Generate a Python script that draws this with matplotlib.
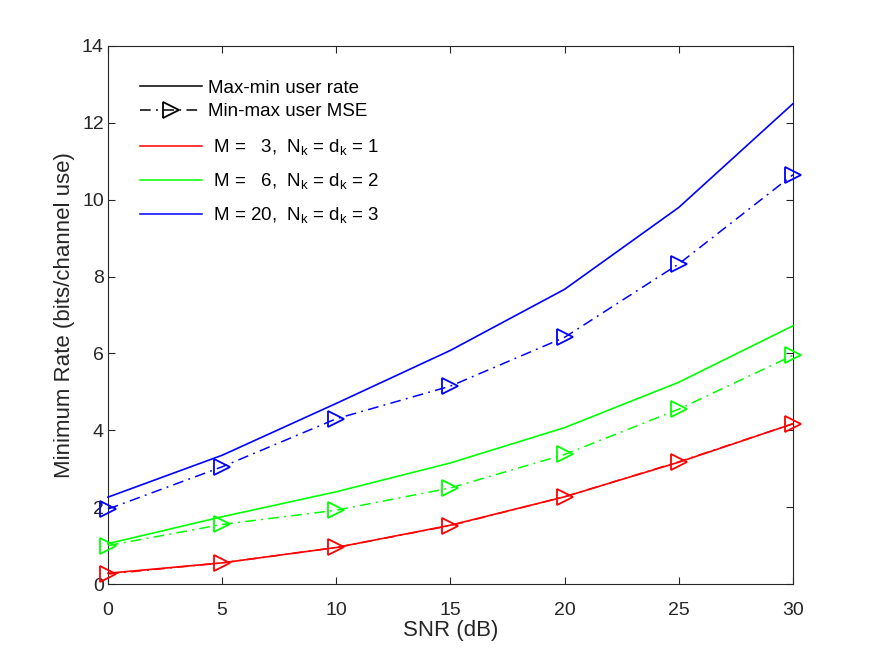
import matplotlib
matplotlib.use("Agg")
import matplotlib.pyplot as plt
from matplotlib.lines import Line2D

plt.rcParams['font.family'] = ['Liberation Sans', 'DejaVu Sans']
plt.rcParams['mathtext.fontset'] = 'custom'
plt.rcParams['mathtext.rm'] = 'Liberation Sans'
plt.rcParams['mathtext.it'] = 'Liberation Sans'

snr = [0, 5, 10, 15, 20, 25, 30]
rate_m3 = [0.28, 0.55, 0.95, 1.53, 2.27, 3.17, 4.17]
mse_m3 = [0.26, 0.55, 0.95, 1.52, 2.27, 3.18, 4.17]
rate_m6 = [1.05, 1.75, 2.40, 3.15, 4.07, 5.25, 6.72]
mse_m6 = [1.00, 1.55, 1.92, 2.50, 3.37, 4.55, 5.95]
rate_m20 = [2.26, 3.35, 4.70, 6.08, 7.67, 9.80, 12.50]
mse_m20 = [1.95, 3.05, 4.30, 5.15, 6.42, 8.33, 10.65]

labels = [r' M =   3,  N$_\mathregular{k}$ = d$_\mathregular{k}$ = 1',
          r' M =   6,  N$_\mathregular{k}$ = d$_\mathregular{k}$ = 2',
          r' M = 20,  N$_\mathregular{k}$ = d$_\mathregular{k}$ = 3']
colors = ['#ff0000', '#00ff00', '#0000ff']
dashdot = (0, (7, 3.5, 1.2, 3.5))

fig = plt.figure(figsize=(8.75, 6.57), dpi=100)
ax = fig.add_axes([0.1234, 0.1111, 0.7829, 0.8189])

for r, m, c in zip([rate_m3, rate_m6, rate_m20], [mse_m3, mse_m6, mse_m20], colors):
    ax.plot(snr, r, '-', color=c, lw=1.2, clip_on=False, zorder=3)
    ax.plot(snr, m, linestyle=dashdot, color=c, lw=1.1, marker='>', markersize=12,
            markerfacecolor='none', markeredgecolor=c, markeredgewidth=1.3,
            clip_on=False, zorder=3)

ax.set_xlim(0, 30)
ax.set_ylim(0, 14)
ax.set_xticks(snr)
ax.set_yticks(range(0, 15, 2))
ax.tick_params(direction='in', length=5, labelsize=14, colors='#262626',
               top=True, right=True, width=0.8)
ax.tick_params(axis='x', pad=13)
ax.tick_params(axis='y', pad=3)
for s in ax.spines.values():
    s.set_color('#262626')
    s.set_linewidth(0.8)
ax.set_xlabel('SNR (dB)', fontsize=16, color='#262626', labelpad=1)
ax.set_ylabel('Minimum Rate (bits/channel use)', fontsize=16, color='#262626', labelpad=5)

h_rate = Line2D([], [], color='k', lw=1.1, ls='-')
h_mse = Line2D([], [], color='k', lw=1.1, ls=dashdot, marker='>', markersize=12,
               markerfacecolor='none', markeredgewidth=1.3)
leg1 = ax.legend([h_rate, h_mse], ['Max-min user rate', 'Min-max user MSE'],
                 loc='upper left', frameon=False, fontsize=13.5,
                 handlelength=3.3, handletextpad=0.35, labelspacing=0.35,
                 bbox_to_anchor=(0.022, 0.969))
ax.add_artist(leg1)
h_cols = [Line2D([], [], color=c, lw=1.1) for c in colors]
ax.legend(h_cols, labels, loc='upper left', frameon=False, fontsize=13.5,
          handlelength=3.3, handletextpad=0.35, labelspacing=0.75,
          bbox_to_anchor=(0.022, 0.862))

fig.savefig('out.png', dpi=100)
